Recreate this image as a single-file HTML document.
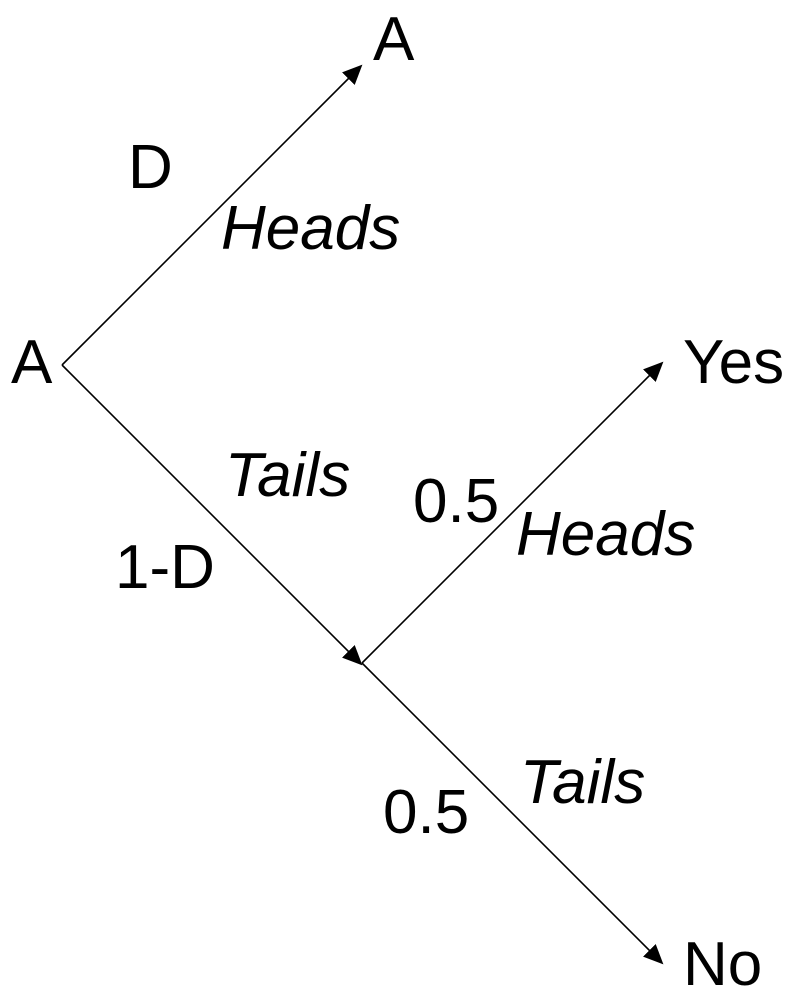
<!DOCTYPE html>
<html><head><meta charset="utf-8"><style>
html,body{margin:0;padding:0;background:#fff;}
svg{display:block;}
text{font-family:"Liberation Sans",Arial,sans-serif;font-size:62px;fill:#000;}
.i{font-style:italic;}
</style></head><body>
<svg width="798" height="1000" viewBox="0 0 798 1000">
<defs>
<marker id="a2" markerWidth="20" markerHeight="18" refX="18" refY="9" orient="auto" markerUnits="userSpaceOnUse"><path d="M0,0 L20,9 L0,18 z" fill="#000"/></marker></defs>
<g stroke="#000" stroke-width="1.6" fill="none">
<line x1="62" y1="365" x2="361" y2="66" marker-end="url(#a2)"/>
<line x1="62" y1="365" x2="361" y2="664" marker-end="url(#a2)"/>
<line x1="362" y1="663" x2="662" y2="363" marker-end="url(#a2)"/>
<line x1="362" y1="663" x2="662" y2="963" marker-end="url(#a2)"/>
</g>
<text x="373" y="60">A</text>
<text x="11" y="383">A</text>
<text x="128" y="188">D</text>
<text class="i" x="221" y="249">Heads</text>
<text class="i" x="225" y="496">Tails</text>
<text x="115" y="588">1-D</text>
<text x="413" y="522">0.5</text>
<text class="i" x="516" y="555">Heads</text>
<text x="683" y="383">Yes</text>
<text class="i" x="520" y="803">Tails</text>
<text x="383" y="833">0.5</text>
<text x="683" y="985">No</text>
</svg>
</body></html>
